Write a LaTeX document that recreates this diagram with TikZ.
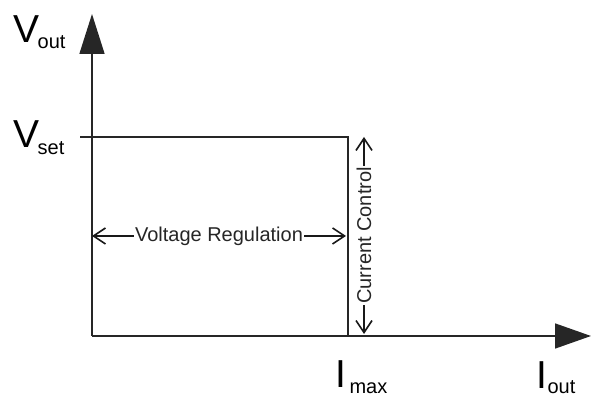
\documentclass[tikz,border=0pt]{standalone}
\usepackage{fontspec}
\setmainfont{Liberation Sans}
\usetikzlibrary{arrows.meta}

\tikzset{
  axis/.style={line width=1.6pt, draw=black!85, -{Triangle[length=40pt,width=25pt]}},
  curve/.style={line width=1.6pt, draw=black!85},
  span/.style={line width=1.6pt, draw=black!90, {Straight Barb[length=12pt,width=16pt]}-{Straight Barb[length=12pt,width=16pt]}},
  spanlabel/.style={fill=white, inner sep=1pt, font=\fontsize{20}{24}\selectfont, text=black!85},
  biglabel/.style={anchor=base west, inner sep=0pt, font=\fontsize{39}{40}\selectfont}
}
\newcommand{\subtxt}[2]{\raisebox{#1}{\fontsize{20}{24}\selectfont #2}}

\begin{document}
\begin{tikzpicture}[x=1pt,y=1pt]
  \useasboundingbox (0,0) rectangle (592,398);
  % axes
  \coordinate (O) at (92,62);
  \coordinate (ytop) at (92,384);
  \coordinate (xend) at (591,62);
  \draw[axis] (O) -- (ytop);
  \draw[axis, -{Triangle[length=36pt,width=25pt]}] (O) -- (xend);
  % characteristic
  \coordinate (set0) at (80,261);
  \coordinate (knee) at (348,261);
  \coordinate (imax) at (348,62);
  \draw[curve] (set0) -- (knee) -- (imax);
  % regions
  \coordinate (regl) at (92,162);
  \coordinate (regr) at (346,162);
  \draw[span] (regl) -- node[spanlabel] (reg) {Voltage Regulation} (regr);
  \coordinate (ctlt) at (364,261);
  \coordinate (ctlb) at (364,64);
  \draw[span] (ctlt) -- node[spanlabel, rotate=90] (ctl) {Current Control} (ctlb);
  % labels
  \node[biglabel] (vout) at (13,355) {V\kern-1.5pt\subtxt{-6pt}{out}};
  \node[biglabel] (vset) at (13,250) {V\kern-1.5pt\subtxt{-7pt}{set}};
  \node[biglabel] (lmax) at (335,10) {I\kern3.5pt\subtxt{-6pt}{max}};
  \node[biglabel] (lout) at (536,9) {I\kern0.5pt\subtxt{-5pt}{out}};
\end{tikzpicture}
\end{document}
